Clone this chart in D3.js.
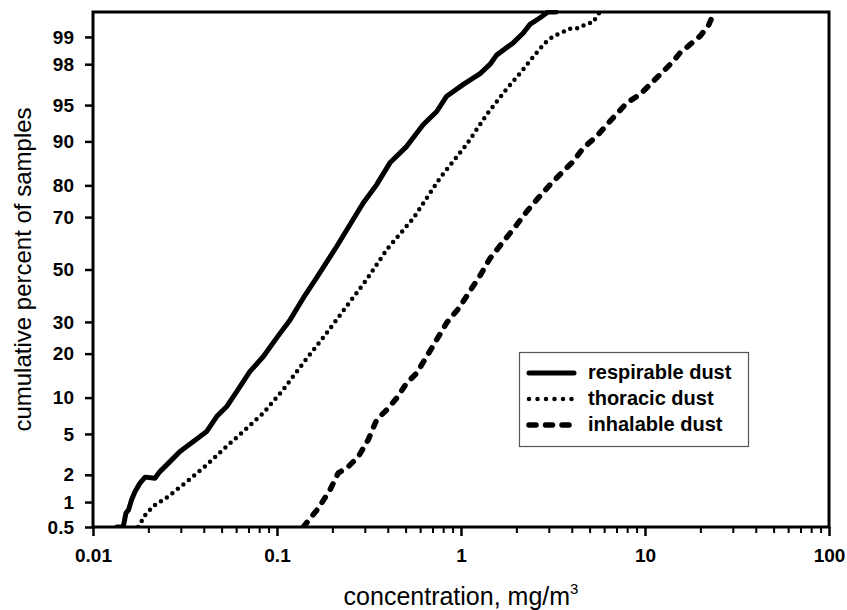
<!DOCTYPE html>
<html lang="en">
<head>
  <meta charset="UTF-8">
  <title>Cumulative distribution of dust concentrations</title>
  <script src="https://d3js.org/d3.v7.min.js"></script>
  <style>
    body { margin: 0; padding: 0; background: #fff; }
    svg { display: block; font-family: "Liberation Sans", Arial, sans-serif; }
    .tick text { font-weight: bold; font-size: 19px; fill: #000; }
    .legend text { font-weight: bold; font-size: 20px; }
  </style>
</head>
<body>
  <svg id="chart" width="847" height="610"></svg>

  <script>
    // Data: [concentration mg/m3, cumulative percent]
    const respirable = [
      [0.0135, 0.5], [0.0146, 0.5], [0.0151, 0.74], [0.0156, 0.81], [0.0162, 1.06], [0.0169, 1.31],
      [0.0180, 1.63], [0.0192, 1.89], [0.0217, 1.84], [0.0231, 2.16], [0.0262, 2.73], [0.0297, 3.43],
      [0.0351, 4.26], [0.0415, 5.26], [0.0470, 7.07], [0.0533, 8.53], [0.0604, 11.1], [0.0713, 15.4],
      [0.0843, 19.2], [0.0996, 24.7], [0.118, 30.8], [0.139, 38.8], [0.164, 46.7], [0.211, 59.1],
      [0.249, 67.3], [0.294, 74.7], [0.348, 80.2], [0.411, 85.7], [0.507, 89.1], [0.624, 92.65],
      [0.738, 94.3], [0.836, 95.85], [1.03, 96.8], [1.27, 97.5], [1.44, 98.0], [1.56, 98.4],
      [1.92, 98.83], [2.18, 99.1], [2.37, 99.29], [2.69, 99.41], [2.97, 99.5], [3.28, 99.5]
    ];
    const thoracic = [
      [0.0176, 0.5], [0.0192, 0.70], [0.0213, 0.90], [0.0252, 1.13], [0.0323, 1.68], [0.0415, 2.53],
      [0.0511, 3.60], [0.0656, 5.26], [0.0843, 7.55], [0.108, 11.45], [0.139, 17.5], [0.179, 24.9],
      [0.239, 35.65], [0.307, 46.0], [0.395, 57.9], [0.551, 69.6], [0.769, 82.0], [1.07, 89.4],
      [1.38, 93.95], [1.73, 96.28], [2.14, 97.64], [2.53, 98.43], [2.86, 98.83], [3.17, 99.02],
      [3.53, 99.11], [3.91, 99.2], [4.34, 99.21], [4.82, 99.30], [5.24, 99.33], [5.42, 99.42], [5.69, 99.5]
    ];
    const inhalable = [
      [0.139, 0.5], [0.154, 0.67], [0.168, 0.85], [0.194, 1.37], [0.215, 2.08], [0.244, 2.43],
      [0.277, 3.07], [0.313, 4.42], [0.348, 6.64], [0.395, 8.03], [0.447, 9.92], [0.507, 12.8],
      [0.574, 15.0], [0.651, 19.2], [0.738, 24.15], [0.836, 29.7], [0.975, 35.0], [1.27, 47.6],
      [1.44, 54.5], [1.70, 61.05], [2.01, 67.3], [2.28, 71.95], [2.58, 75.76], [3.05, 80.2],
      [3.45, 82.9], [4.08, 86.05], [4.62, 88.8], [5.46, 90.87], [6.45, 93.1], [7.96, 95.22],
      [9.39, 96.0], [11.1, 97.02], [12.6, 97.64], [14.3, 98.15], [15.5, 98.49], [17.6, 98.78],
      [19.9, 99.02], [22.1, 99.26], [23.5, 99.47], [23.7, 99.5]
    ];

    const seriesNames = ["respirable dust", "thoracic dust", "inhalable dust"];
    const xTicks = [0.01, 0.1, 1, 10, 100];
    const yTicks = [0.5, 1, 2, 5, 10, 20, 30, 50, 70, 80, 90, 95, 98, 99];
    const yDomain = [0.5, 99.5];

    // inverse normal CDF (Acklam)
    function probit(p) {
      const a = [-39.69683028665376, 220.9460984245205, -275.9285104469687, 138.3577518672690, -30.66479806614716, 2.506628277459239];
      const b = [-54.47609879822406, 161.5858368580409, -155.6989798598866, 66.80131188771972, -13.28068155288572];
      const c = [-0.007784894002430293, -0.3223964580411365, -2.400758277161838, -2.549732539343734, 4.374664141464968, 2.938163982698783];
      const d = [0.007784695709041462, 0.3224671290700398, 2.445134137142996, 3.754408661907416];
      const pl = 0.02425;
      let q, r;
      if (p < pl) {
        q = Math.sqrt(-2 * Math.log(p));
        return (((((c[0]*q+c[1])*q+c[2])*q+c[3])*q+c[4])*q+c[5]) / ((((d[0]*q+d[1])*q+d[2])*q+d[3])*q+1);
      } else if (p <= 1 - pl) {
        q = p - 0.5; r = q * q;
        return (((((a[0]*r+a[1])*r+a[2])*r+a[3])*r+a[4])*r+a[5])*q / (((((b[0]*r+b[1])*r+b[2])*r+b[3])*r+b[4])*r+1);
      } else {
        q = Math.sqrt(-2 * Math.log(1 - p));
        return -(((((c[0]*q+c[1])*q+c[2])*q+c[3])*q+c[4])*q+c[5]) / ((((d[0]*q+d[1])*q+d[2])*q+d[3])*q+1);
      }
    }

    const svg = d3.select("#chart");
    const margin = { left: 93, right: 18, top: 12, bottom: 83 };
    const W = 847, H = 610;
    const innerW = W - margin.left - margin.right;
    const innerH = H - margin.top - margin.bottom;

    const x = d3.scaleLog().domain([0.01, 100]).range([margin.left, margin.left + innerW]);
    const yz = d3.scaleLinear()
      .domain(yDomain.map(p => probit(p / 100)))
      .range([margin.top + innerH, margin.top]);
    const y = p => yz(probit(p / 100));

    // clip
    svg.append("clipPath").attr("id", "clip")
      .append("rect")
      .attr("x", margin.left).attr("y", margin.top - 2)
      .attr("width", innerW).attr("height", innerH + 2);

    // x axis: minor ticks then major
    const minor = [];
    for (let e = -2; e < 2; e++) for (let k = 2; k <= 9; k++) minor.push(k * Math.pow(10, e));
    svg.append("g")
      .attr("transform", `translate(0,${margin.top + innerH})`)
      .call(d3.axisBottom(x).tickValues(minor).tickSize(6).tickFormat(""))
      .call(g => g.select(".domain").remove())
      .call(g => g.selectAll("line").attr("stroke-width", 2));

    svg.append("g")
      .attr("transform", `translate(0,${margin.top + innerH})`)
      .call(d3.axisBottom(x).tickValues(xTicks).tickSize(9).tickPadding(13)
        .tickFormat(d => d3.format("~g")(d)))
      .call(g => g.select(".domain").remove())
      .call(g => g.selectAll("line").attr("stroke-width", 2.5));

    // y axis
    svg.append("g")
      .attr("transform", `translate(${margin.left},0)`)
      .call(d3.axisLeft(yz).tickValues(yTicks.map(p => probit(p / 100))).tickSize(8).tickPadding(11)
        .tickFormat((d, i) => yTicks[i]))
      .call(g => g.select(".domain").remove())
      .call(g => g.selectAll("line").attr("stroke-width", 2.5));

    // frame
    svg.append("rect")
      .attr("x", margin.left).attr("y", margin.top)
      .attr("width", innerW).attr("height", innerH)
      .attr("fill", "none").attr("stroke", "#000").attr("stroke-width", 3);

    // curves
    const line = d3.line().x(d => x(d[0])).y(d => y(d[1]));
    const styles = [
      { data: respirable, width: 5, dash: null },
      { data: thoracic, width: 4.5, dash: "0,7" },
      { data: inhalable, width: 5.5, dash: "6,9.5" }
    ];
    const curves = svg.append("g").attr("clip-path", "url(#clip)");
    styles.forEach(s => {
      curves.append("path")
        .datum(s.data)
        .attr("d", line)
        .attr("fill", "none")
        .attr("stroke", "#000")
        .attr("stroke-width", s.width)
        .attr("stroke-linecap", "round")
        .attr("stroke-linejoin", "round")
        .attr("stroke-dasharray", s.dash);
    });

    // legend
    const lg = svg.append("g").attr("class", "legend");
    lg.append("rect")
      .attr("x", 519.5).attr("y", 352.5).attr("width", 229).attr("height", 94)
      .attr("fill", "#fff").attr("stroke", "#555").attr("stroke-width", 1.2);
    styles.forEach((s, i) => {
      const ly = 373 + i * 26;
      lg.append("line")
        .attr("x1", 529).attr("x2", 574).attr("y1", ly).attr("y2", ly)
        .attr("stroke", "#000").attr("stroke-width", s.width)
        .attr("stroke-linecap", "round")
        .attr("stroke-dasharray", i === 1 ? "0,8.5" : i === 2 ? "7,9.5" : s.dash);
      lg.append("text")
        .attr("x", 588).attr("y", ly + 6)
        .text(seriesNames[i]);
    });

    // axis titles
    const xt = svg.append("text")
      .attr("x", margin.left + innerW / 2).attr("y", 605)
      .attr("text-anchor", "middle")
      .attr("font-size", 25);
    xt.append("tspan").text("concentration, mg/m");
    xt.append("tspan").attr("dy", -11).attr("font-size", 15).text("3");

    svg.append("text")
      .attr("transform", `translate(31,${margin.top + innerH / 2}) rotate(-90)`)
      .attr("text-anchor", "middle")
      .attr("font-size", 24)
      .text("cumulative percent of samples");
  </script>
</body>
</html>
